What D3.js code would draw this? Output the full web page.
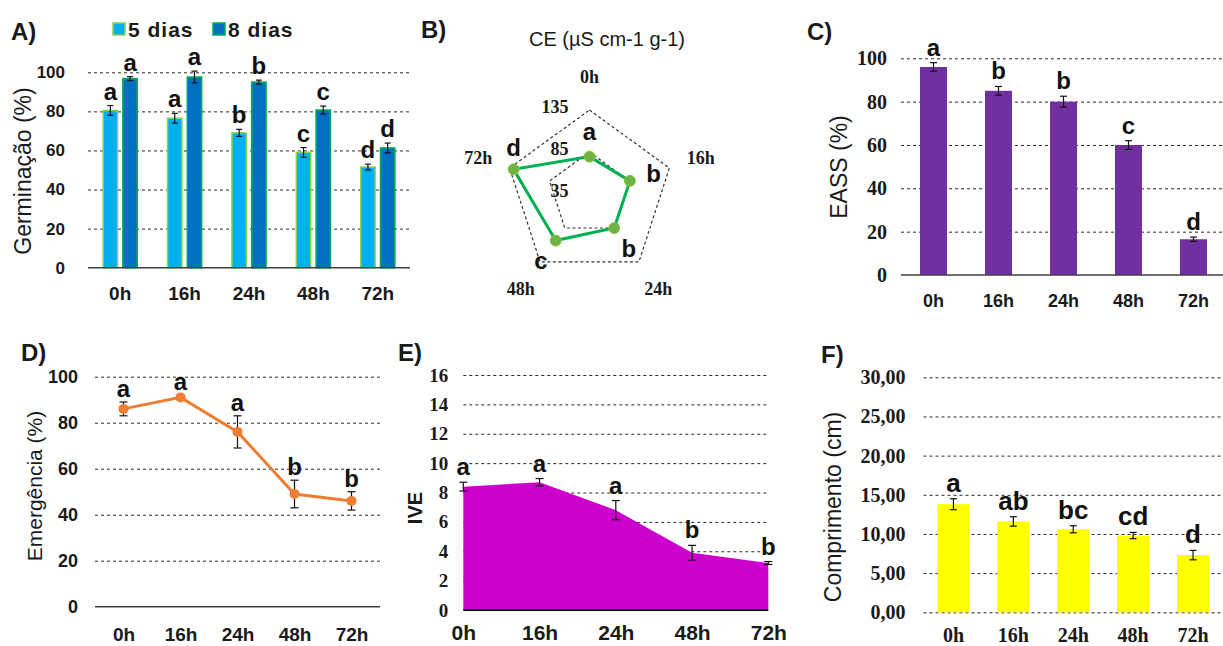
<!DOCTYPE html>
<html><head><meta charset="utf-8">
<script src="https://cdn.jsdelivr.net/npm/d3@7"></script>
<style>body{margin:0;background:#fff} svg{display:block}</style>
</head><body><svg id="c" width="1223" height="646"></svg>
<script>
// ---------- DATA ----------
const times = ["0h","16h","24h","48h","72h"];
// A) Germinação
const seriesA = ["5 dias","8 dias"];
const germ5 = [80.5, 76.5, 69, 59, 51.5];
const germ5Err = [2.5, 2.5, 1.8, 2.5, 1.5];
const germ8 = [96.8, 97.6, 95, 80.7, 61.3];
const germ8Err = [1, 3, 1, 2, 2.5];
const germ5Let = ["a","a","b","c","d"];
const germ8Let = ["a","a","b","c","d"];
const germTicks = [0,20,40,60,80,100];
// B) CE radar
const ceVals = [79.5, 85.6, 85.1, 103.5, 130];
const ceLet = ["a","b","b","c","d"];
const ceTicks = [35,85,135];
// C) EASS
const eass = [96, 85, 80, 60, 16.5];
const eassErr = [2, 2, 2.5, 2, 1];
const eassLet = ["a","b","b","c","d"];
const eassTicks = [0,20,40,60,80,100];
// D) Emergência
const emerg = [86, 91, 76, 49, 46];
const emergErr = [3, 1, 7, 6, 4];
const emergLet = ["a","a","a","b","b"];
const emergTicks = [0,20,40,60,80,100];
// E) IVE
const ive = [8.4, 8.7, 6.8, 3.9, 3.2];
const iveErr = [0.3, 0.25, 0.65, 0.5, 0.1];
const iveLet = ["a","a","a","b","b"];
const iveTicks = [0,2,4,6,8,10,12,14,16];
// F) Comprimento
const comp = [13.8, 11.6, 10.6, 9.8, 7.3];
const compErr = [0.7, 0.6, 0.45, 0.4, 0.6];
const compLet = ["a","ab","bc","cd","d"];
const compTicks = [0,5,10,15,20,25,30];

// ---------- SETUP ----------
const svg = d3.select("#c");
svg.append("rect").attr("width",1223).attr("height",646).attr("fill","#fff");
const ARIAL = "Arial, 'Liberation Sans', sans-serif";
const TIMES = "'Times New Roman', 'Liberation Serif', serif";
const TXT = "#1a1a1a";
const commaFmt = d3.formatLocale({decimal:",", thousands:".", grouping:[3], currency:["",""]}).format(".2f");

function yGrid(scale, ticks, x0, x1, pad, font, size, fmt, dashZero){
  const g = svg.append("g").attr("transform",`translate(${x0},0)`)
    .call(d3.axisLeft(scale).tickValues(ticks).tickSize(-(x1-x0)).tickPadding(pad).tickFormat(fmt||d3.format("d")));
  g.select(".domain").remove();
  g.selectAll(".tick line").attr("stroke","#2a2a2a").attr("stroke-width",1).attr("stroke-dasharray","3,3")
    .attr("opacity", d => (d===0 && !dashZero) ? 0 : 1);
  g.selectAll(".tick text").attr("font-family",font).attr("font-size",size).attr("font-weight","bold").attr("fill",TXT);
  return g;
}
function xLabels(scale, y, baseOff, font, size){
  const g = svg.append("g").attr("transform",`translate(0,${y})`)
    .call(d3.axisBottom(scale).tickSize(0));
  g.select(".domain").remove();
  g.selectAll(".tick text").attr("y",baseOff).attr("dy",0)
    .attr("font-family",font).attr("font-size",size).attr("font-weight","bold").attr("fill",TXT);
  return g;
}
function axisLine(x0,x1,y,w,color){
  svg.append("line").attr("x1",x0).attr("x2",x1).attr("y1",y).attr("y2",y)
    .attr("stroke",color||"#404040").attr("stroke-width",w||1.5);
}
function yTitle(text, x, y, size, bold){
  svg.append("text").attr("transform",`translate(${x},${y}) rotate(-90)`)
    .attr("text-anchor","middle").attr("dy","0.35em")
    .attr("font-family",ARIAL).attr("font-size",size).attr("font-weight",bold?"bold":"normal")
    .attr("fill",TXT).text(text);
}
function panelLabel(text,x,y){
  svg.append("text").attr("x",x).attr("y",y).attr("font-family",ARIAL).attr("font-size",24)
    .attr("font-weight","bold").attr("fill",TXT).text(text);
}
function errBars(xs, vals, errs, yS, cap){
  const g = svg.append("g").attr("stroke","#111").attr("stroke-width",1.2);
  vals.forEach((v,i)=>{
    const x = xs[i], y1 = yS(v+errs[i]), y2 = yS(v-errs[i]);
    g.append("line").attr("x1",x).attr("x2",x).attr("y1",y1).attr("y2",y2);
    g.append("line").attr("x1",x-cap/2).attr("x2",x+cap/2).attr("y1",y1).attr("y2",y1);
    g.append("line").attr("x1",x-cap/2).attr("x2",x+cap/2).attr("y1",y2).attr("y2",y2);
  });
}
function letters(xs, vals, errs, lets, yS, off, size){
  svg.append("g").selectAll("text").data(lets).join("text")
    .attr("x",(d,i)=>xs[i]).attr("y",(d,i)=>yS(vals[i]+errs[i])-off)
    .attr("text-anchor","middle").attr("font-family",ARIAL).attr("font-size",size||24)
    .attr("font-weight","bold").attr("fill","#111").text(d=>d);
}

// ---------- PANEL A ----------
{
  const x = d3.scaleBand().domain(times).range([88,410]).paddingInner(0.47).paddingOuter(0.235);
  const x2 = d3.scaleBand().domain(seriesA).range([0,x.bandwidth()]).paddingInner(0.27);
  const y = d3.scaleLinear().domain([0,100]).range([267.7,72.3]);
  yGrid(y, germTicks, 88, 410, 23, ARIAL, 17);
  const cfg = [
    {s:"5 dias", v:germ5, e:germ5Err, l:germ5Let, fill:"#00b0f0", stroke:"#92d050"},
    {s:"8 dias", v:germ8, e:germ8Err, l:germ8Let, fill:"#0070c0", stroke:"#00b050"}
  ];
  cfg.forEach(c=>{
    svg.append("g").selectAll("rect").data(c.v).join("rect")
      .attr("x",(d,i)=>x(times[i])+x2(c.s)).attr("width",x2.bandwidth())
      .attr("y",d=>y(d)).attr("height",d=>y(0)-y(d))
      .attr("fill",c.fill).attr("stroke",c.stroke).attr("stroke-width",1.5);
    const xs = times.map(t=>x(t)+x2(c.s)+x2.bandwidth()/2);
    errBars(xs, c.v, c.e, y, 6);
    letters(xs, c.v, c.e, c.l, y, 6, 24);
  });
  axisLine(88,410,y(0),1.5);
  xLabels(x, y(0), 32, ARIAL, 19);
  yTitle("Germinação (%)", 23, 171, 23);
  panelLabel("A)", 11, 40);
  // legend
  const lg = svg.append("g");
  cfg.forEach((c,i)=>{
    const lx = 113 + i*100;
    lg.append("rect").attr("x",lx).attr("y",23).attr("width",12).attr("height",12)
      .attr("fill",c.fill).attr("stroke",c.stroke).attr("stroke-width",1.5);
    lg.append("text").attr("x",lx+15).attr("y",37).attr("font-family",ARIAL).attr("font-size",21)
      .attr("font-weight","bold").attr("letter-spacing",1).attr("fill",TXT).text(c.s);
  });
}

// ---------- PANEL B (radar) ----------
{
  const cx = 589.5, cy = 194, R = 84;
  const r = d3.scaleLinear().domain([35,135]).range([0,R]);
  const ang = i => i*2*Math.PI/times.length;
  const g = svg.append("g").attr("transform",`translate(${cx},${cy})`);
  const ring = d3.lineRadial().angle((d,i)=>ang(i)).radius(d=>r(d)).curve(d3.curveLinearClosed);
  ceTicks.filter(t=>r(t)>0).forEach(t=>{
    g.append("path").attr("d",ring(times.map(()=>t))).attr("fill","none")
      .attr("stroke","#333").attr("stroke-width",1.2).attr("stroke-dasharray","3,2.5");
  });
  ceTicks.forEach(t=>{
    g.append("text").attr("x",-21).attr("y",-r(t)-3).attr("dy","0.35em").attr("text-anchor","end")
      .attr("font-family",TIMES).attr("font-size",18).attr("font-weight","bold").attr("fill",TXT).text(t);
  });
  g.append("path").attr("d",ring(ceVals)).attr("fill","none").attr("stroke","#00b050").attr("stroke-width",3);
  const px = (v,i)=>r(v)*Math.sin(ang(i)), py = (v,i)=>-r(v)*Math.cos(ang(i));
  g.selectAll("circle").data(ceVals).join("circle")
    .attr("cx",(d,i)=>px(d,i)).attr("cy",(d,i)=>py(d,i))
    .attr("r",5.5).attr("fill","#6fb245").attr("stroke","#8cc63f").attr("stroke-width",1);
  // letter offset: outward along the spoke, or straight up when that would leave the grid
  const lOff = 25;
  const lpos = (v,i)=>{
    if (r(v)+lOff > R+5) return [px(v,i), py(v,i)-22];
    return [(r(v)+lOff)*Math.sin(ang(i)), -(r(v)+lOff)*Math.cos(ang(i))];
  };
  g.selectAll(".lt").data(ceLet).join("text").attr("class","lt")
    .attr("x",(d,i)=>lpos(ceVals[i],i)[0]).attr("y",(d,i)=>lpos(ceVals[i],i)[1])
    .attr("dy","0.35em").attr("text-anchor","middle").attr("font-family",ARIAL).attr("font-size",24)
    .attr("font-weight","bold").attr("fill","#111").text(d=>d);
  g.selectAll(".ax").data(times).join("text").attr("class","ax")
    .attr("x",(d,i)=>(R+33)*Math.sin(ang(i))).attr("y",(d,i)=>-(R+33)*Math.cos(ang(i)))
    .attr("dy","0.35em").attr("text-anchor","middle").attr("font-family",TIMES).attr("font-size",18)
    .attr("font-weight","bold").attr("fill",TXT).text(d=>d);
  svg.append("text").attr("x",607).attr("y",46).attr("text-anchor","middle").attr("font-family",ARIAL)
    .attr("font-size",20).attr("fill",TXT).text("CE (µS cm-1 g-1)");
  panelLabel("B)", 421, 38);
}

// ---------- PANEL C ----------
{
  const x = d3.scaleBand().domain(times).range([901,1226]).paddingInner(0.585).paddingOuter(0.2925);
  const y = d3.scaleLinear().domain([0,100]).range([275,58.3]);
  yGrid(y, eassTicks, 901, 1223, 14, TIMES, 20);
  svg.append("g").selectAll("rect").data(eass).join("rect")
    .attr("x",(d,i)=>x(times[i])).attr("width",x.bandwidth())
    .attr("y",d=>y(d)).attr("height",d=>y(0)-y(d)).attr("fill","#7030a0");
  const xs = times.map(t=>x(t)+x.bandwidth()/2);
  errBars(xs, eass, eassErr, y, 7);
  letters(xs, eass, eassErr, eassLet, y, 7, 24);
  axisLine(901,1223,y(0),1.5);
  xLabels(x, y(0), 32, ARIAL, 18);
  yTitle("EASS (%)", 839, 167, 23);
  panelLabel("C)", 807, 40);
}

// ---------- PANEL D ----------
{
  const x = d3.scalePoint().domain(times).range([95,380]).padding(0.5);
  const y = d3.scaleLinear().domain([0,100]).range([606.7,376.7]);
  yGrid(y, emergTicks, 95, 380, 17, ARIAL, 18);
  axisLine(95,380,y(0),1.5);
  const line = d3.line().x((d,i)=>x(times[i])).y(d=>y(d));
  svg.append("path").attr("d",line(emerg)).attr("fill","none").attr("stroke","#ed7d31").attr("stroke-width",3);
  const xs = times.map(t=>x(t));
  errBars(xs, emerg, emergErr, y, 8);
  svg.append("g").selectAll("circle").data(emerg).join("circle")
    .attr("cx",(d,i)=>xs[i]).attr("cy",d=>y(d)).attr("r",5).attr("fill","#ed7d31");
  letters(xs, emerg, emergErr, emergLet, y, 5, 24);
  xLabels(x, y(0), 34, ARIAL, 19);
  yTitle("Emergência (%)", 35, 486, 21);
  panelLabel("D)", 21, 361);
}

// ---------- PANEL E ----------
{
  const x = d3.scalePoint().domain(times).range([463.3,768.3]).padding(0);
  const y = d3.scaleLinear().domain([0,16]).range([610,375]);
  yGrid(y, iveTicks, 463.3, 768.3, 15, TIMES, 19);
  const area = d3.area().x((d,i)=>x(times[i])).y0(y(0)).y1(d=>y(d));
  svg.append("path").attr("d",area(ive)).attr("fill","#cc00cc");
  axisLine(463.3,768.3,y(0),2,"#111");
  const xs = times.map(t=>x(t));
  errBars(xs, ive, iveErr, y, 8);
  letters(xs, ive, iveErr, iveLet, y, 7, 24);
  xLabels(x, y(0), 30, ARIAL, 21);
  yTitle("IVE", 415, 508, 20, true);
  panelLabel("E)", 398, 361);
}

// ---------- PANEL F ----------
{
  const x = d3.scaleBand().domain(times).range([923.5,1223]).paddingInner(0.466).paddingOuter(0.233);
  const y = d3.scaleLinear().domain([0,30]).range([612.3,377.3]);
  yGrid(y, compTicks, 923.5, 1223, 18, TIMES, 20, commaFmt, true);
  svg.append("g").selectAll("rect").data(comp).join("rect")
    .attr("x",(d,i)=>x(times[i])).attr("width",x.bandwidth())
    .attr("y",d=>y(d)).attr("height",d=>y(0)-y(d)).attr("fill","#ffff00");
  const xs = times.map(t=>x(t)+x.bandwidth()/2);
  errBars(xs, comp, compErr, y, 7);
  letters(xs, comp, compErr, compLet, y, 7, 26);
  xLabels(x, y(0), 30, TIMES, 20);
  yTitle("Comprimento (cm)", 833, 507, 23);
  panelLabel("F)", 821, 363);
}
</script></body></html>
